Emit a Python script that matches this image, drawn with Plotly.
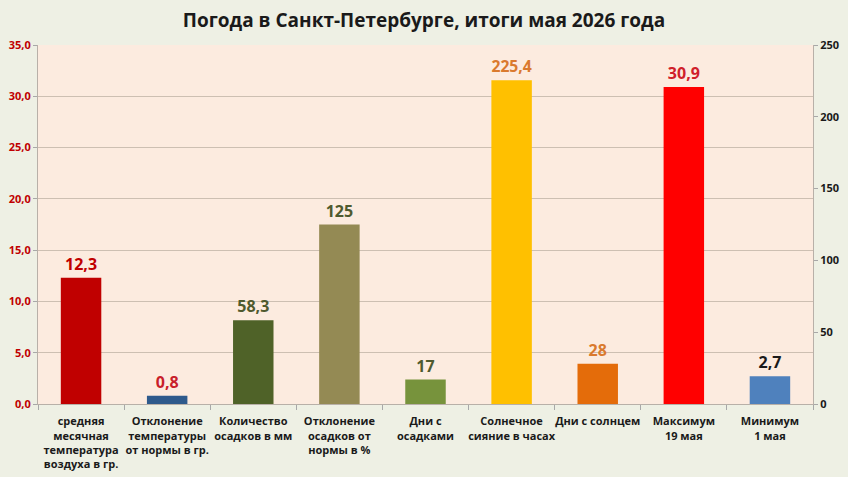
import plotly.graph_objects as go

categories = [
    "средняя<br>месячная<br>температура<br>воздуха в гр.",
    "Отклонение<br>температуры<br>от нормы в гр.",
    "Количество<br>осадков в мм",
    "Отклонение<br>осадков от<br>нормы в %",
    "Дни с<br>осадками",
    "Солнечное<br>сияние в часах",
    "Дни с солнцем",
    "Максимум<br>19 мая",
    "Минимум<br>1 мая",
]
values = [12.3, 0.8, 58.3, 125, 17, 225.4, 28, 30.9, 2.7]
# which axis each value is plotted against: "left" (degrees) or "right" (mm, %, days, hours)
axis_side = ["left", "left", "right", "right", "right", "right", "right", "left", "left"]
bar_colors = ["#C00000", "#2E5A8C", "#4F6228", "#948A54", "#77933C",
              "#FFC000", "#E46C0A", "#FF0000", "#4F81BD"]
label_colors = ["#C00000", "#C8202A", "#4F5A2E", "#4F5A2E", "#4F5A2E",
                "#DA7A2E", "#DA7A2E", "#D0202A", "#1A1A1A"]
left_ticks = [0, 5, 10, 15, 20, 25, 30, 35]
right_ticks = [0, 50, 100, 150, 200, 250]

def fmt(v):
    return str(v).replace(".", ",")

fig = go.Figure()
for side, yaxis in (("left", "y"), ("right", "y2")):
    ys = [v if s == side else None for v, s in zip(values, axis_side)]
    txt = [fmt(v) if s == side else "" for v, s in zip(values, axis_side)]
    fig.add_trace(go.Bar(
        x=categories, y=ys, yaxis=yaxis,
        marker=dict(color=bar_colors, line=dict(width=0)),
        text=txt, textposition="outside", cliponaxis=False,
        textfont=dict(color=label_colors, size=16, family="Open Sans", weight="bold"),
        width=0.47, showlegend=False, hoverinfo="skip",
    ))

fig.update_layout(
    width=848, height=477,
    paper_bgcolor="#EEF0E4", plot_bgcolor="#FCEBDF",
    margin=dict(l=38, r=35, t=45, b=73),
    barmode="overlay", separators=", ",
    title=dict(text="<b>Погода в Санкт-Петербурге, итоги мая 2026 года</b>",
               x=0.5, xanchor="center", y=0.958, yanchor="middle",
               font=dict(family="Open Sans", size=19, color="#1A1A1A")),
    xaxis=dict(
        tickson="boundaries", ticks="outside", ticklen=5, tickcolor="#A8A8A8",
        showline=True, linecolor="#B8B0A8", linewidth=1,
        tickfont=dict(family="Open Sans", size=11, color="#1A1A1A", weight="bold"),
        showgrid=False, tickangle=0, ticklabelstandoff=7, automargin=False,
    ),
    yaxis=dict(
        range=[0, 35], tickvals=left_ticks, tickformat=".1f",
        ticks="outside", ticklen=4, tickcolor="#A8A8A8",
        showline=True, linecolor="#B8B0A8", linewidth=1,
        gridcolor="#CDBFB2", gridwidth=1, zeroline=False, automargin=False,
        tickfont=dict(family="Open Sans", size=11, color="#C00000", weight="bold"),
    ),
    yaxis2=dict(
        range=[0, 250], tickvals=right_ticks, overlaying="y", side="right",
        ticks="outside", ticklen=4, tickcolor="#A8A8A8",
        showline=True, linecolor="#B8B0A8", linewidth=1,
        showgrid=False, zeroline=False, automargin=False,
        tickfont=dict(family="Open Sans", size=11, color="#1A1A1A", weight="bold"),
    ),
)

fig.write_html("out.html")
